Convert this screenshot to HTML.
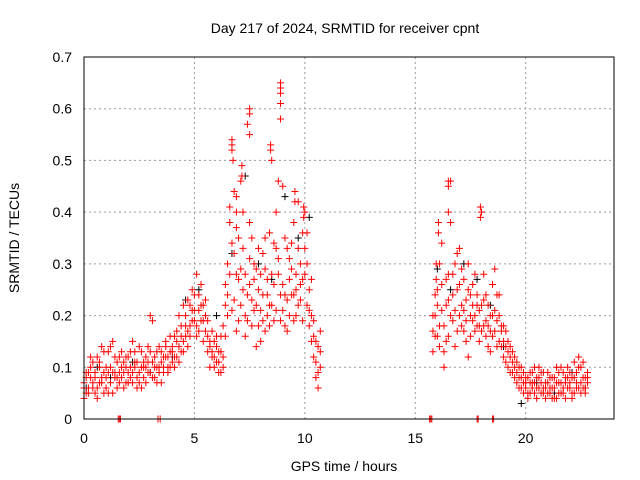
<!DOCTYPE html>
<html><head><meta charset="utf-8"><style>
body{margin:0;background:#fff;}
svg{display:block;font-family:"Liberation Sans",sans-serif;}
</style></head><body>
<svg id="chart" width="640" height="480">
<text x="345" y="33" font-size="14" text-anchor="middle">Day 217 of 2024, SRMTID for receiver cpnt</text>
<text x="344" y="471" font-size="14" text-anchor="middle">GPS time / hours</text>
<text transform="translate(19,238) rotate(-90)" font-size="14" text-anchor="middle">SRMTID / TECUs</text>
<g id="grid"></g>
<g id="ticks"></g>
<g id="black"></g>
<g id="red"></g>
<rect x="84" y="57" width="530" height="362" fill="none" stroke="#000" stroke-width="1"/>
</svg>
<script>
const xTicks=[0,5,10,15,20];
const yTicks=[0,0.1,0.2,0.3,0.4,0.5,0.6,0.7];
const yTickLabels=["0","0.1","0.2","0.3","0.4","0.5","0.6","0.7"];
const redHours=[
0.0,0.1,0.2,0.3,0.4,0.5,0.6,0.7,0.8,0.9,
1.0,1.1,1.2,1.3,1.4,1.5,1.6,1.7,1.8,1.9,
2.0,2.1,2.2,2.3,2.4,2.5,2.6,2.7,2.8,2.9,
3.0,3.1,3.2,3.3,3.4,3.5,3.6,3.7,3.8,3.9,
4.0,4.1,4.2,4.3,4.4,4.5,4.6,4.7,4.8,4.9,
5.0,5.1,5.2,5.3,5.4,5.5,5.6,5.7,5.8,5.9,
6.0,6.1,6.2,6.3,6.4,6.5,6.6,6.7,6.8,6.9,
7.0,7.1,7.2,7.3,7.4,7.5,7.6,7.7,7.8,7.9,
8.0,8.1,8.2,8.3,8.4,8.5,8.6,8.7,8.8,8.9,
9.0,9.1,9.2,9.3,9.4,9.5,9.6,9.7,9.8,9.9,
10.0,10.1,10.2,10.3,10.4,10.5,10.6,10.7,
15.8,15.9,
16.0,16.1,16.2,16.3,16.4,16.5,16.6,16.7,16.8,16.9,
17.0,17.1,17.2,17.3,17.4,17.5,17.6,17.7,17.8,17.9,
18.0,18.1,18.2,18.3,18.4,18.5,18.6,18.7,18.8,18.9,
19.0,19.1,19.2,19.3,19.4,19.5,19.6,19.7,19.8,19.9,
20.0,20.1,20.2,20.3,20.4,20.5,20.6,20.7,20.8,20.9,
21.0,21.1,21.2,21.3,21.4,21.5,21.6,21.7,21.8,21.9,
22.0,22.1,22.2,22.3,22.4,22.5,22.6,22.7,22.8];
const redValuesA=[
0.07,0.05,0.09,0.12,0.06,0.08,0.04,0.10,0.07,0.13,
0.06,0.09,0.14,0.05,0.08,0.11,0.07,0.10,0.06,0.12,
0.09,0.13,0.07,0.11,0.08,0.14,0.06,0.10,0.12,0.09,
0.20,0.11,0.08,0.13,0.10,0.07,0.12,0.15,0.09,0.13,
0.11,0.16,0.12,0.14,0.18,0.15,0.20,0.17,0.22,0.19,
0.24,0.18,0.21,0.26,0.19,0.23,0.16,0.14,0.12,0.15,
0.11,0.13,0.09,0.18,0.22,0.30,0.38,0.52,0.44,0.28,
0.35,0.46,0.25,0.20,0.57,0.31,0.18,0.27,0.22,0.33,
0.15,0.24,0.29,0.20,0.36,0.50,0.26,0.40,0.31,0.63,
0.45,0.24,0.33,0.20,0.29,0.38,0.25,0.42,0.30,0.36,
0.28,0.22,0.18,0.15,0.12,0.08,0.14,0.10,
0.13,0.20,
0.25,0.18,0.34,0.10,0.22,0.28,0.46,0.19,0.30,0.25,
0.33,0.22,0.27,0.15,0.30,0.24,0.19,0.28,0.22,0.18,
0.40,0.28,0.16,0.22,0.13,0.26,0.29,0.19,0.24,0.17,
0.18,0.14,0.15,0.12,0.13,0.10,0.11,0.08,0.10,0.07,
0.06,0.08,0.05,0.07,0.10,0.06,0.08,0.05,0.09,0.06,
0.07,0.05,0.08,0.06,0.04,0.09,0.07,0.05,0.08,0.06,
0.09,0.05,0.11,0.07,0.06,0.10,0.08,0.05,0.09];
const redValuesB=[
0.04,0.09,0.06,0.08,0.11,0.05,0.12,0.07,0.14,0.09,
0.10,0.13,0.07,0.15,0.09,0.06,0.12,0.08,0.11,0.07,
0.12,0.08,0.15,0.10,0.06,0.09,0.13,0.11,0.07,0.14,
0.09,0.19,0.12,0.10,0.14,0.11,0.09,0.12,0.10,0.16,
0.14,0.10,0.17,0.20,0.13,0.22,0.16,0.23,0.18,0.25,
0.19,0.28,0.17,0.22,0.15,0.20,0.13,0.10,0.17,0.12,
0.14,0.09,0.16,0.12,0.26,0.20,0.41,0.34,0.23,0.37,
0.19,0.29,0.40,0.16,0.24,0.38,0.23,0.30,0.14,0.25,
0.21,0.32,0.17,0.27,0.22,0.28,0.19,0.33,0.46,0.24,
0.21,0.35,0.17,0.31,0.24,0.19,0.28,0.22,0.26,0.19,
0.40,0.30,0.25,0.20,0.16,0.11,0.06,0.13,
0.20,0.24,
0.16,0.30,0.21,0.13,0.27,0.16,0.38,0.24,0.14,0.32,
0.20,0.29,0.17,0.23,0.12,0.20,0.26,0.17,0.24,0.15,
0.22,0.18,0.24,0.14,0.20,0.16,0.21,0.24,0.15,0.14,
0.12,0.17,0.10,0.14,0.09,0.12,0.07,0.10,0.06,0.09,
0.08,0.05,0.09,0.06,0.07,0.04,0.06,0.09,0.05,0.07,
0.05,0.08,0.06,0.04,0.07,0.05,0.10,0.06,0.04,0.08,
0.06,0.08,0.05,0.09,0.12,0.07,0.06,0.08,0.07];
const redValuesC=[
0.06,0.08,0.05,0.10,0.07,0.09,0.06,0.11,0.08,0.05,
0.08,0.05,0.10,0.09,0.12,0.08,0.09,0.13,0.09,0.10,
0.07,0.10,0.09,0.13,0.11,0.07,0.10,0.08,0.10,0.11,
0.13,0.08,0.10,0.07,0.09,0.13,0.10,0.14,0.12,0.10,
0.13,0.12,0.15,0.11,0.16,0.13,0.18,0.14,0.16,0.21,
0.21,0.16,0.24,0.19,0.22,0.17,0.19,0.15,0.13,0.10,
0.16,0.11,0.13,0.10,0.16,0.24,0.28,0.21,0.32,0.17,
0.27,0.22,0.33,0.28,0.19,0.26,0.35,0.21,0.29,0.18,
0.28,0.19,0.35,0.24,0.18,0.22,0.34,0.21,0.28,0.19,
0.26,0.18,0.23,0.27,0.34,0.24,0.20,0.33,0.23,0.27,
0.33,0.36,0.21,0.27,0.19,0.15,0.09,0.17,
0.17,0.16,
0.22,0.14,0.26,0.18,0.15,0.23,0.20,0.28,0.21,0.17,
0.26,0.18,0.21,0.19,0.25,0.16,0.22,0.20,0.18,0.21,
0.17,0.23,0.19,0.18,0.17,0.20,0.17,0.14,0.20,0.18,
0.15,0.11,0.13,0.09,0.11,0.08,0.09,0.06,0.08,0.05,
0.07,0.04,0.07,0.09,0.05,0.08,0.10,0.07,0.06,0.04,
0.09,0.06,0.04,0.08,0.10,0.07,0.05,0.09,0.07,0.10,
0.07,0.04,0.08,0.06,0.10,0.05,0.11,0.06,0.08];
const redPeakHours=[6.7,6.7,6.75,6.9,6.9,7.15,7.15,7.5,7.5,7.5,8.45,8.45,8.9,8.9,8.9,8.9,9.55,9.55,9.95,9.95,15.95,15.95,16.05,16.05,16.5,16.5,16.5,17.95,17.95];
const redPeakValues=[0.54,0.53,0.5,0.43,0.40,0.49,0.47,0.59,0.60,0.55,0.53,0.52,0.65,0.64,0.61,0.58,0.44,0.42,0.41,0.39,0.30,0.27,0.38,0.36,0.46,0.45,0.40,0.41,0.39];
const redZeroHours=[1.55,1.6,1.65,3.35,3.45,15.65,15.7,15.75,17.8,17.85,18.5,18.55];
const redZeroValues=[0,0,0,0,0,0,0,0,0,0,0,0];
const blackHours=[0.1,0.6,1.2,2.2,3.0,4.0,4.6,5.2,6.0,6.7,7.3,7.9,8.5,9.1,9.7,10.2,16.0,16.6,17.2,17.8,18.4,19.0,19.8,20.5,21.3,22.1,22.7];
const blackValues=[0.06,0.1,0.08,0.11,0.09,0.12,0.23,0.25,0.2,0.32,0.47,0.3,0.27,0.43,0.35,0.39,0.29,0.25,0.3,0.27,0.22,0.14,0.03,0.07,0.05,0.09,0.06];
const X0=84,X1=614,Y0=419,Y1=57,XMAX=24,YMAX=0.7;
const xs=h=>X0+(X1-X0)*h/XMAX;
const ys=v=>Y0-(Y0-Y1)*v/YMAX;
const NS="http://www.w3.org/2000/svg";
function mk(tag,attrs,parent){const e=document.createElementNS(NS,tag);for(const k in attrs)e.setAttribute(k,attrs[k]);parent.appendChild(e);return e;}
const grid=document.getElementById('grid'),ticks=document.getElementById('ticks');
xTicks.forEach(t=>{
  const x=xs(t);
  if(t>0){const g=mk('line',{x1:x,x2:x,y1:Y1,y2:Y0,stroke:'#999','stroke-dasharray':'2,3'},grid);
  
  }
  const l=mk('text',{x:x,y:Y0+24,'font-size':14,'text-anchor':'middle'},ticks);l.textContent=t;
  
  
});
yTicks.forEach((t,i)=>{
  const y=ys(t);
  if(t>0&&t<YMAX){const g=mk('line',{x1:X0,x2:X1,y1:y,y2:y,stroke:'#999','stroke-dasharray':'2,3'},grid);
  
  }
  const l=mk('text',{x:X0-12,y:y+5,'font-size':14,'text-anchor':'end'},ticks);l.textContent=yTickLabels[i];
  
  
});
function plot(hrs,vals,col,gid,name){
  const g=document.getElementById(gid);
  hrs.forEach((h,i)=>{
    const x=xs(h),y=ys(vals[i]);
    const p=mk('path',{d:`M${x-3.5},${y}h7M${x},${y-3.5}v7`,stroke:col,'stroke-width':1,fill:'none'},g);
    
    
  });
}
plot(blackHours,blackValues,'#000','black','black-point');
plot(redHours,redValuesA,'#f00','red','red-point');
plot(redHours,redValuesB,'#f00','red','red-point');
plot(redHours,redValuesC,'#f00','red','red-point');
plot(redPeakHours,redPeakValues,'#f00','red','red-peak-point');
plot(redZeroHours,redZeroValues,'#f00','red','red-zero-point');
</script>
</body></html>
